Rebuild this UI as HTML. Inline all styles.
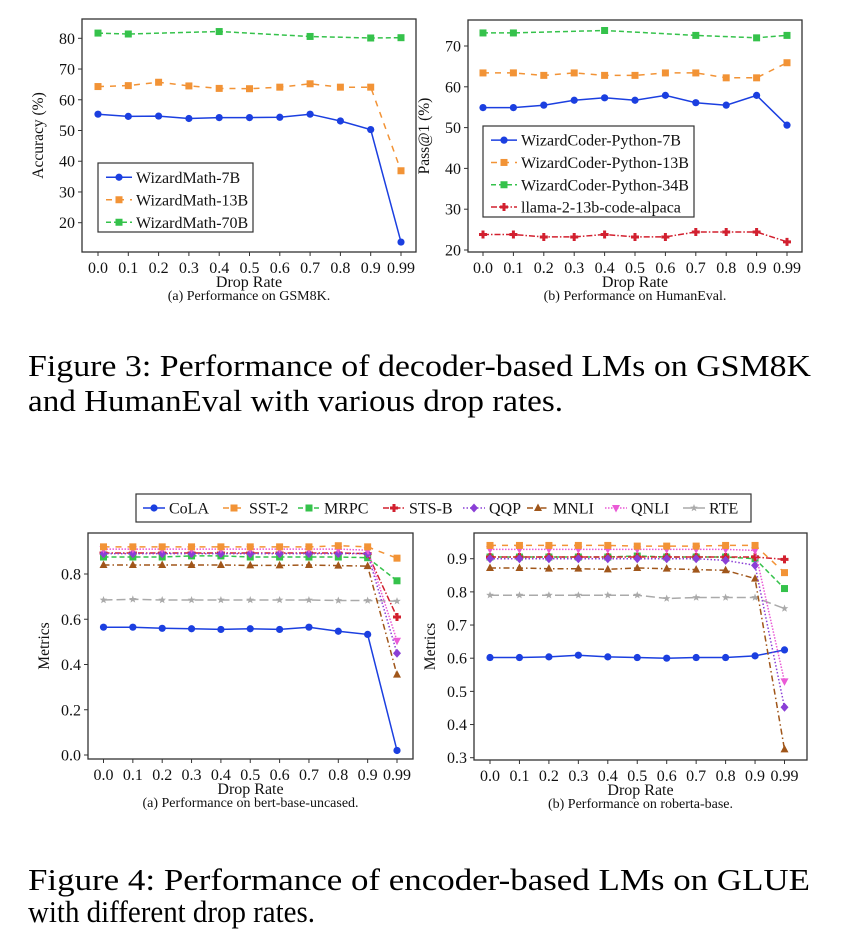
<!DOCTYPE html>
<html><head><meta charset="utf-8"><style>
html,body{margin:0;padding:0;background:#fff;}
svg{display:block;font-family:"Liberation Serif",serif;}
</style></head><body>
<svg id="fig" width="846" height="935" viewBox="0 0 846 935" xmlns="http://www.w3.org/2000/svg">
<text x="28" y="376" font-size="31" textLength="783" lengthAdjust="spacingAndGlyphs">Figure 3: Performance of decoder-based LMs on GSM8K</text>
<text x="28" y="411" font-size="31" textLength="535" lengthAdjust="spacingAndGlyphs">and HumanEval with various drop rates.</text>
<text x="28" y="890" font-size="31" textLength="782" lengthAdjust="spacingAndGlyphs">Figure 4:  Performance of encoder-based LMs on GLUE</text>
<text x="28" y="922" font-size="31" textLength="287" lengthAdjust="spacingAndGlyphs">with different drop rates.</text>
</svg>
<script>
const categories = ["0.0","0.1","0.2","0.3","0.4","0.5","0.6","0.7","0.8","0.9","0.99"];
// GSM8K
const gsmNames = ["WizardMath-7B","WizardMath-13B","WizardMath-70B"];
const gsm7 = [55.3,54.6,54.7,53.9,54.2,54.2,54.3,55.3,53.1,50.3,13.7];
const gsm13 = [64.3,64.6,65.7,64.5,63.7,63.6,64.1,65.2,64.1,64.1,36.9];
const gsm70 = [81.7,81.4,null,null,82.2,null,null,80.6,null,80.1,80.2];
const gsmTicks = [20,30,40,50,60,70,80];
// HumanEval
const heNames = ["WizardCoder-Python-7B","WizardCoder-Python-13B","WizardCoder-Python-34B","llama-2-13b-code-alpaca"];
const he7 = [54.9,54.9,55.5,56.7,57.3,56.7,57.9,56.1,55.5,57.9,50.6];
const he13 = [63.4,63.4,62.8,63.4,62.8,62.8,63.4,63.4,62.2,62.2,65.9];
const he34 = [73.2,73.2,null,null,73.8,null,null,72.6,null,72.0,72.6];
const heLlama = [23.8,23.8,23.2,23.2,23.8,23.2,23.2,24.4,24.4,24.4,22.0];
const heTicks = [20,30,40,50,60,70];
// GLUE
const glueNames = ["CoLA","SST-2","MRPC","STS-B","QQP","MNLI","QNLI","RTE"];
const bertCola = [0.565,0.565,0.56,0.558,0.555,0.558,0.555,0.565,0.547,0.533,0.02];
const bertSst2 = [0.92,0.92,0.92,0.92,0.92,0.92,0.92,0.92,0.925,0.92,0.87];
const bertMrpc = [0.875,0.875,0.875,0.88,0.88,0.875,0.875,0.875,0.875,0.872,0.77];
const bertStsb = [0.893,0.893,0.893,0.893,0.893,0.893,0.893,0.893,0.893,0.89,0.61];
const bertQqp = [0.89,0.89,0.89,0.89,0.89,0.89,0.89,0.89,0.89,0.89,0.45];
const bertMnli = [0.84,0.84,0.84,0.84,0.84,0.838,0.838,0.84,0.837,0.835,0.355];
const bertQnli = [0.91,0.91,0.91,0.91,0.91,0.91,0.91,0.91,0.91,0.905,0.505];
const bertRte = [0.685,0.688,0.685,0.685,0.685,0.685,0.685,0.685,0.683,0.683,0.68];
const bertTicks = [0.0,0.2,0.4,0.6,0.8];
const robCola = [0.602,0.602,0.604,0.609,0.604,0.602,0.6,0.602,0.602,0.607,0.625];
const robSst2 = [0.94,0.94,0.94,0.94,0.94,0.938,0.938,0.938,0.94,0.94,0.858];
const robMrpc = [0.905,0.905,0.905,0.905,0.905,0.908,0.905,0.905,0.905,0.9,0.81];
const robStsb = [0.905,0.905,0.905,0.905,0.905,0.905,0.905,0.905,0.905,0.905,0.898];
const robQqp = [0.9,0.9,0.9,0.9,0.9,0.9,0.9,0.9,0.895,0.88,0.452];
const robMnli = [0.872,0.872,0.87,0.87,0.868,0.872,0.87,0.867,0.865,0.84,0.325];
const robQnli = [0.928,0.928,0.928,0.928,0.928,0.928,0.928,0.928,0.928,0.925,0.53];
const robRte = [0.79,0.79,0.79,0.79,0.79,0.79,0.78,0.783,0.783,0.783,0.75];
const robTicks = [0.3,0.4,0.5,0.6,0.7,0.8,0.9];

const NS="http://www.w3.org/2000/svg";
const svg=document.getElementById('fig');
function mk(tag,attrs,parent){const e=document.createElementNS(NS,tag);for(const k in attrs)e.setAttribute(k,attrs[k]);(parent||svg).appendChild(e);return e;}

const ST={
 blue:{c:"#1b3fe0",d:"",m:"circle"},
 orange:{c:"#f29336",d:"6,6",m:"xsq"},
 green:{c:"#35c24b",d:"5,3",m:"square"},
 red:{c:"#d2202f",d:"6,2,1.5,2",m:"plus"},
 purple:{c:"#8a3fd6",d:"1.5,2",m:"diamond"},
 brown:{c:"#a0561a",d:"6,3,1.5,3",m:"tri"},
 pink:{c:"#ea5ad6",d:"1.5,1.5",m:"tridown"},
 gray:{c:"#aaaaaa",d:"9,4",m:"star"}
};
function marker(g,m,x,y,c){
 if(m==="circle")mk('circle',{cx:x,cy:y,r:3.6,fill:c},g);
 else if(m==="square")mk('rect',{x:x-3.5,y:y-3.5,width:7,height:7,fill:c},g);
 else if(m==="xsq")mk('path',{d:`M${x-3.5},${y-3.5}h7v7h-7z`,fill:c},g);
 else if(m==="plus")mk('path',{d:`M${x-1.5},${y-4}h3v2.5h2.5v3h-2.5v2.5h-3v-2.5h-2.5v-3h2.5z`,fill:c},g);
 else if(m==="diamond")mk('path',{d:`M${x},${y-4.5}L${x+4},${y}L${x},${y+4.5}L${x-4},${y}z`,fill:c},g);
 else if(m==="tri")mk('path',{d:`M${x},${y-4.5}L${x+4},${y+3}L${x-4},${y+3}z`,fill:c},g);
 else if(m==="tridown")mk('path',{d:`M${x},${y+4.5}L${x+4},${y-3}L${x-4},${y-3}z`,fill:c},g);
 else if(m==="star"){let p="";for(let i=0;i<10;i++){const r=i%2?1.7:4;const a=-Math.PI/2+i*Math.PI/5;p+=(i?"L":"M")+(x+r*Math.cos(a)).toFixed(1)+","+(y+r*Math.sin(a)).toFixed(1);}mk('path',{d:p+"z",fill:c},g);}
}
function chart(o){
 const g=mk('g',{});
 
 
 const sx=i=>o.x0+(o.x1-o.x0)*i/(categories.length-1);
 const sy=v=>o.yA+(v-o.vA)*(o.yB-o.yA)/(o.vB-o.vA);
 const fr=mk('rect',{x:o.fx0,y:o.fy0,width:o.fx1-o.fx0,height:o.fy1-o.fy0,fill:"none",stroke:"#333","stroke-width":1.3},g);
 
 
 o.ticks.forEach(t=>{const y=sy(t);
  mk('line',{x1:o.fx0-4,x2:o.fx0,y1:y,y2:y,stroke:"#333"},g);
  const tx=mk('text',{x:o.fx0-7,y:y+5.5,"font-size":16,"text-anchor":"end",fill:"#111"},g);
  tx.textContent=o.fmt(t);
  
  
 });
 categories.forEach((c,i)=>{const x=sx(i);
  mk('line',{x1:x,x2:x,y1:o.fy1,y2:o.fy1+4,stroke:"#333"},g);
  const tx=mk('text',{x:x,y:o.fy1+21,"font-size":16,"text-anchor":"middle",fill:"#111"},g);
  tx.textContent=c;
  
  
 });
 const xl=mk('text',{x:(o.fx0+o.fx1)/2,y:o.fy1+35,"font-size":16,"text-anchor":"middle",fill:"#111"},g);
 xl.textContent="Drop Rate";
 
 
 const cy=o.fy1+48;
 const cp=mk('text',{x:(o.fx0+o.fx1)/2,y:cy,"font-size":14,"text-anchor":"middle",fill:"#111"},g);
 cp.textContent=o.caption;
 
 
 const ym=(o.fy0+o.fy1)/2;
 const yl=mk('text',{x:o.fx0-39,y:ym,"font-size":15.5,"text-anchor":"middle",fill:"#111",transform:`rotate(-90 ${o.fx0-39} ${ym})`},g);
 yl.textContent=o.ylabel;
 
 
 o.series.forEach(s=>{const st=ST[s.style];
  const sg=mk('g',{},g);
  
  
  let p="";s.vals.forEach((v,i)=>{if(v==null)return;p+=(p?"L":"M")+sx(i).toFixed(1)+","+sy(v).toFixed(1);});
  mk('path',{d:p,fill:"none",stroke:st.c,"stroke-width":1.5,"stroke-dasharray":st.d},sg);
  s.vals.forEach((v,i)=>{if(v==null)return;marker(sg,st.m,sx(i),sy(v),st.c);});
 });
 return g;
}
function legend(o){
 const g=mk('g',{});
 
 
 mk('rect',{x:o.x,y:o.y,width:o.w,height:o.h,fill:"#fff",stroke:"#333","stroke-width":1.2},g);
 const L=o.horiz?22:26;
 o.items.forEach((it,i)=>{const st=ST[it.style];
  const lx=o.horiz?o.x+o.pos[i]:o.x+8, ly=o.horiz?o.y+o.h/2:o.y+o.dy*(i+0.5)+3;
  const eg=mk('g',{},g);
  
  
  mk('line',{x1:lx,x2:lx+L,y1:ly,y2:ly,stroke:st.c,"stroke-width":1.5,"stroke-dasharray":st.d},eg);
  marker(eg,st.m,lx+L/2,ly,st.c);
  const t=mk('text',{x:lx+L+4,y:ly+5.5,"font-size":16,fill:"#111"},eg);
  t.textContent=it.label;
 });
}
chart({name:"gsm8k-chart",fx0:82,fx1:416,fy0:19,fy1:252,x0:98,x1:401,vA:80,yA:38.3,vB:20,yB:222.7,ticks:gsmTicks,fmt:t=>String(t),ylabel:"Accuracy (%)",caption:"(a) Performance on GSM8K.",
 series:[{label:gsmNames[0],vals:gsm7,style:"blue"},{label:gsmNames[1],vals:gsm13,style:"orange"},{label:gsmNames[2],vals:gsm70,style:"green"}]});
legend({name:"gsm8k-legend",x:98,y:163,w:155,h:69,dy:22.5,items:[{label:gsmNames[0],style:"blue"},{label:gsmNames[1],style:"orange"},{label:gsmNames[2],style:"green"}]});
chart({name:"humaneval-chart",fx0:468,fx1:802,fy0:20,fy1:252,x0:483,x1:787,vA:70,yA:46,vB:20,yB:250,ticks:heTicks,fmt:t=>String(t),ylabel:"Pass@1 (%)",caption:"(b) Performance on HumanEval.",
 series:[{label:heNames[0],vals:he7,style:"blue"},{label:heNames[1],vals:he13,style:"orange"},{label:heNames[2],vals:he34,style:"green"},{label:heNames[3],vals:heLlama,style:"red"}]});
legend({name:"humaneval-legend",x:483,y:126,w:211,h:91,dy:22.3,items:[{label:heNames[0],style:"blue"},{label:heNames[1],style:"orange"},{label:heNames[2],style:"green"},{label:heNames[3],style:"red"}]});
const glueStyles=["blue","orange","green","red","purple","brown","pink","gray"];
chart({name:"bert-chart",fx0:88,fx1:413,fy0:533,fy1:759,x0:103.5,x1:397,vA:0.8,yA:574,vB:0,yB:755,ticks:bertTicks,fmt:t=>t.toFixed(1),ylabel:"Metrics",caption:"(a) Performance on bert-base-uncased.",
 series:[bertRte,bertCola,bertMnli,bertMrpc,bertStsb,bertQqp,bertQnli,bertSst2].map((v,k)=>{const idx=[7,0,5,2,3,4,6,1][k];return {label:glueNames[idx],vals:v,style:glueStyles[idx]};})});
chart({name:"roberta-chart",fx0:474,fx1:807,fy0:533,fy1:760,x0:490,x1:784.5,vA:0.9,yA:558.7,vB:0.3,yB:757.7,ticks:robTicks,fmt:t=>t.toFixed(1),ylabel:"Metrics",caption:"(b) Performance on roberta-base.",
 series:[robRte,robCola,robMnli,robMrpc,robStsb,robQqp,robQnli,robSst2].map((v,k)=>{const idx=[7,0,5,2,3,4,6,1][k];return {label:glueNames[idx],vals:v,style:glueStyles[idx]};})});
legend({name:"glue-legend",horiz:true,x:136,y:494,w:615,h:28,pos:[7,87,162,247,327,391,469,547],items:glueNames.map((n,i)=>({label:n,style:glueStyles[i]}))});
</script>
</body></html>
